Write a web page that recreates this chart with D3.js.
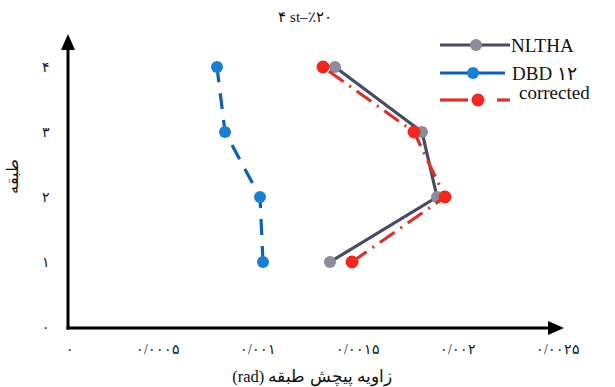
<!DOCTYPE html>
<html>
<head>
<meta charset="utf-8">
<script src="https://cdn.jsdelivr.net/npm/d3@7"></script>
<style>
  body { margin: 0; background: #fff; }
  svg { display: block; }
  text { font-family: "Liberation Serif", "DejaVu Serif", serif; fill: #111; }
</style>
</head>
<body>
<svg></svg>
<script>
// Story drift angle chart (D3 v7)

const width = 615;
const height = 387;

// ---- Data ----
const stories = [1, 2, 3, 4];
const nlthaDrift = [0.00136, 0.001895, 0.00182, 0.001385];
const dbdDrift = [0.001025, 0.00101, 0.000835, 0.000795];
const correctedDrift = [0.00147, 0.001935, 0.00178, 0.001325];

const xTicks = [0, 0.0005, 0.001, 0.0015, 0.002, 0.0025];
const xTickLabels = ["۰", "۰/۰۰۰۵", "۰/۰۰۱", "۰/۰۰۱۵", "۰/۰۰۲", "۰/۰۰۲۵"];
const yTicks = [0, 1, 2, 3, 4];
const yTickLabels = ["۰", "۱", "۲", "۳", "۴"];

const titleText = "۴ st–٪۲۰";
const xTitle = "زاویه پیچش طبقه (rad)";
const yTitle = "طبقه";

const seriesNames = ["NLTHA", "DBD ۱۲", "corrected"];

const svg = d3.select("svg").attr("width", width).attr("height", height);

// Scales
const x = d3.scaleLinear().domain([0, 0.0025]).range([58, 558]);
const y = d3.scaleLinear().domain([0, 4]).range([327, 67]);

const axisX0 = 68;
const axisY0 = 328;

// ---- Axes (arrows) ----
const axes = svg.append("g");
axes.append("line")
  .attr("x1", axisX0).attr("y1", axisY0 + 1.5)
  .attr("x2", axisX0).attr("y2", 46)
  .attr("stroke", "#000").attr("stroke-width", 3);
axes.append("path")
  .attr("d", `M${axisX0},34 L${axisX0 - 7},50 L${axisX0 + 7},50 Z`)
  .attr("fill", "#000");
axes.append("line")
  .attr("x1", axisX0 - 1.5).attr("y1", axisY0)
  .attr("x2", 552).attr("y2", axisY0)
  .attr("stroke", "#000").attr("stroke-width", 3);
axes.append("path")
  .attr("d", `M564,${axisY0} L548,${axisY0 - 7} L548,${axisY0 + 7} Z`)
  .attr("fill", "#000");

// Tick labels
svg.append("g")
  .selectAll("text")
  .data(xTicks)
  .join("text")
  .attr("x", (d, i) => (i === 0 ? x(d) + 12 : x(d)))
  .attr("y", 354)
  .attr("text-anchor", "middle")
  .attr("font-size", 14)
  .text((d, i) => xTickLabels[i]);

svg.append("g")
  .selectAll("text")
  .data(yTicks)
  .join("text")
  .attr("x", 46)
  .attr("y", (d) => y(d) + 5)
  .attr("text-anchor", "middle")
  .attr("font-size", 14)
  .text((d, i) => yTickLabels[i]);

// Titles
svg.append("text")
  .attr("x", 305).attr("y", 22)
  .attr("text-anchor", "middle")
  .attr("font-size", 15)
  .style("direction", "ltr")
  .style("unicode-bidi", "bidi-override")
  .text(titleText);

svg.append("text")
  .attr("x", 312).attr("y", 382)
  .attr("text-anchor", "middle")
  .attr("direction", "rtl")
  .attr("font-size", 16.5)
  .text(xTitle);

svg.append("text")
  .attr("transform", "translate(18,176) rotate(-90)")
  .attr("text-anchor", "middle")
  .attr("font-size", 16)
  .text(yTitle);

// ---- Series ----
const series = [
  { name: seriesNames[0], values: nlthaDrift, line: "#4b4b60", marker: "#8c8c9a", dash: null, r: 6 },
  { name: seriesNames[1], values: dbdDrift, line: "#0f5fb4", marker: "#1b7fd1", dash: "16,11", r: 6 },
  { name: seriesNames[2], values: correctedDrift, line: "#d8322c", marker: "#f0281f", dash: "18,7,2,7", r: 6.5 },
];

const lineGen = d3.line()
  .x((d) => x(d.v))
  .y((d) => y(d.s));

series.forEach((s) => {
  const pts = stories.map((st, i) => ({ s: st, v: s.values[i] }));
  const g = svg.append("g");
  g.append("path")
    .datum(pts)
    .attr("d", lineGen)
    .attr("fill", "none")
    .attr("stroke", s.line)
    .attr("stroke-width", 3.2)
    .attr("stroke-dasharray", s.dash);
  g.selectAll("circle")
    .data(pts)
    .join("circle")
    .attr("cx", (d) => x(d.v))
    .attr("cy", (d) => y(d.s))
    .attr("r", s.r)
    .attr("fill", s.marker);
});

// ---- Legend ----
const legendRows = [
  { y: 45, x1: 440, x2: 510, mx: 476, tx: 511, ty: 52 },
  { y: 73, x1: 440, x2: 505, mx: 473, tx: 512, ty: 80 },
  { y: 100, x1: 440, x2: 510, mx: 478, tx: 519, ty: 99 },
];

const legend = svg.append("g");
series.forEach((s, i) => {
  const r = legendRows[i];
  if (i === 2) {
    legend.append("line")
      .attr("x1", r.x1).attr("x2", 468).attr("y1", r.y).attr("y2", r.y)
      .attr("stroke", s.line).attr("stroke-width", 3.2);
    legend.append("line")
      .attr("x1", 497).attr("x2", r.x2).attr("y1", r.y).attr("y2", r.y)
      .attr("stroke", s.line).attr("stroke-width", 3.2);
  } else {
    legend.append("line")
      .attr("x1", r.x1).attr("x2", r.x2).attr("y1", r.y).attr("y2", r.y)
      .attr("stroke", s.line).attr("stroke-width", 3.2);
  }
  legend.append("circle")
    .attr("cx", r.mx).attr("cy", r.y).attr("r", s.r)
    .attr("fill", s.marker);
  legend.append("text")
    .attr("x", r.tx).attr("y", r.ty)
    .attr("font-size", 19)
    .text(s.name);
});
</script>
</body>
</html>
